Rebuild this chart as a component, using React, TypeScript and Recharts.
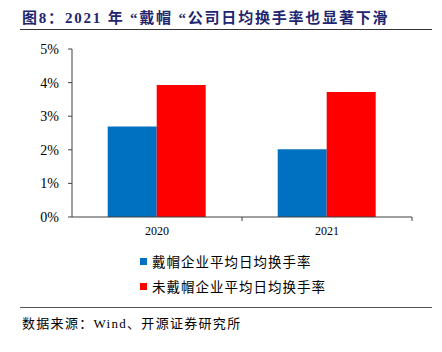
import React from "react";
import { BarChart, Bar, XAxis, YAxis } from "recharts";

const years = ["2020", "2021"];
const cappedRate = [2.69, 2.02];
const uncappedRate = [3.93, 3.72];
const yTicks = [0, 1, 2, 3, 4, 5];
const seriesNames = ["戴帽企业平均日均换手率", "未戴帽企业平均日均换手率"];
const seriesColors = ["#0070C0", "#FF0000"];

const data = years.map((year, i) => ({
  year,
  capped: cappedRate[i],
  uncapped: uncappedRate[i],
}));

const serif = '"Liberation Serif", "Times New Roman", "Noto Sans CJK SC", serif';
const cjk = '"Liberation Serif", "Noto Sans CJK SC", serif';

const YearTick = (props: any) => {
  const { x, y, payload } = props;
  const edge = payload.offset ? x + payload.offset : x;
  return (
    <g>
      <line x1={edge} y1={y - 8} x2={edge} y2={y - 4} stroke="#404040" />
      <text x={x} y={y + 10} textAnchor="middle" fontSize={12} fill="#000" fontFamily={serif}>
        {payload.value}
      </text>
    </g>
  );
};

const App = () => {
  return (
    <div style={{ position: "absolute", left: 0, top: 0, width: 442, height: 352, background: "#fff" }}>
      <div
        style={{
          position: "absolute",
          left: 22,
          top: 6,
          fontFamily: cjk,
          fontWeight: "bold",
          fontSize: 15,
          letterSpacing: 1.8,
          color: "#1f2670",
          whiteSpace: "nowrap",
        }}
      >
        图8：2021 年 “戴帽 “公司日均换手率也显著下滑
      </div>
      <div style={{ position: "absolute", left: 20, top: 29, width: 412, height: 1, background: "#333" }} />

      <div style={{ position: "absolute", left: 0, top: 0 }}>
        <BarChart
          width={442}
          height={245}
          data={data}
          margin={{ top: 49, right: 30, left: 22, bottom: 5 }}
          barCategoryGap="21%"
          barGap={0}
        >
          <XAxis
            dataKey="year"
            height={23}
            stroke="#404040"
            tickLine={false}
            tick={<YearTick />}
          />
          <YAxis
            width={50}
            domain={[0, 5]}
            ticks={yTicks}
            tickFormatter={(v: number) => v + "%"}
            stroke="#404040"
            tickSize={4}
            tickMargin={9}
            tick={{ fill: "#000", fontSize: 14, fontFamily: serif }}
          />
          <Bar dataKey="capped" name={seriesNames[0]} fill={seriesColors[0]} isAnimationActive={false} />
          <Bar dataKey="uncapped" name={seriesNames[1]} fill={seriesColors[1]} isAnimationActive={false} />
        </BarChart>
      </div>

      {seriesNames.map((name, i) => (
        <div
          key={name}
          style={{
            position: "absolute",
            left: 140,
            top: 251 + i * 25,
            height: 20,
            display: "flex",
            alignItems: "center",
            whiteSpace: "nowrap",
          }}
        >
          <span style={{ display: "inline-block", width: 7, height: 7, background: seriesColors[i], marginRight: 5 }} />
          <span style={{ fontFamily: cjk, fontSize: 13.5, letterSpacing: 1, color: "#000" }}>{name}</span>
        </div>
      ))}

      <div style={{ position: "absolute", left: 20, top: 307, width: 412, height: 1, background: "#555" }} />
      <div
        style={{
          position: "absolute",
          left: 22,
          top: 313,
          fontFamily: cjk,
          fontSize: 13,
          letterSpacing: 1.3,
          color: "#000",
          whiteSpace: "nowrap",
        }}
      >
        数据来源：Wind、开源证券研究所
      </div>
    </div>
  );
};

export default App;
